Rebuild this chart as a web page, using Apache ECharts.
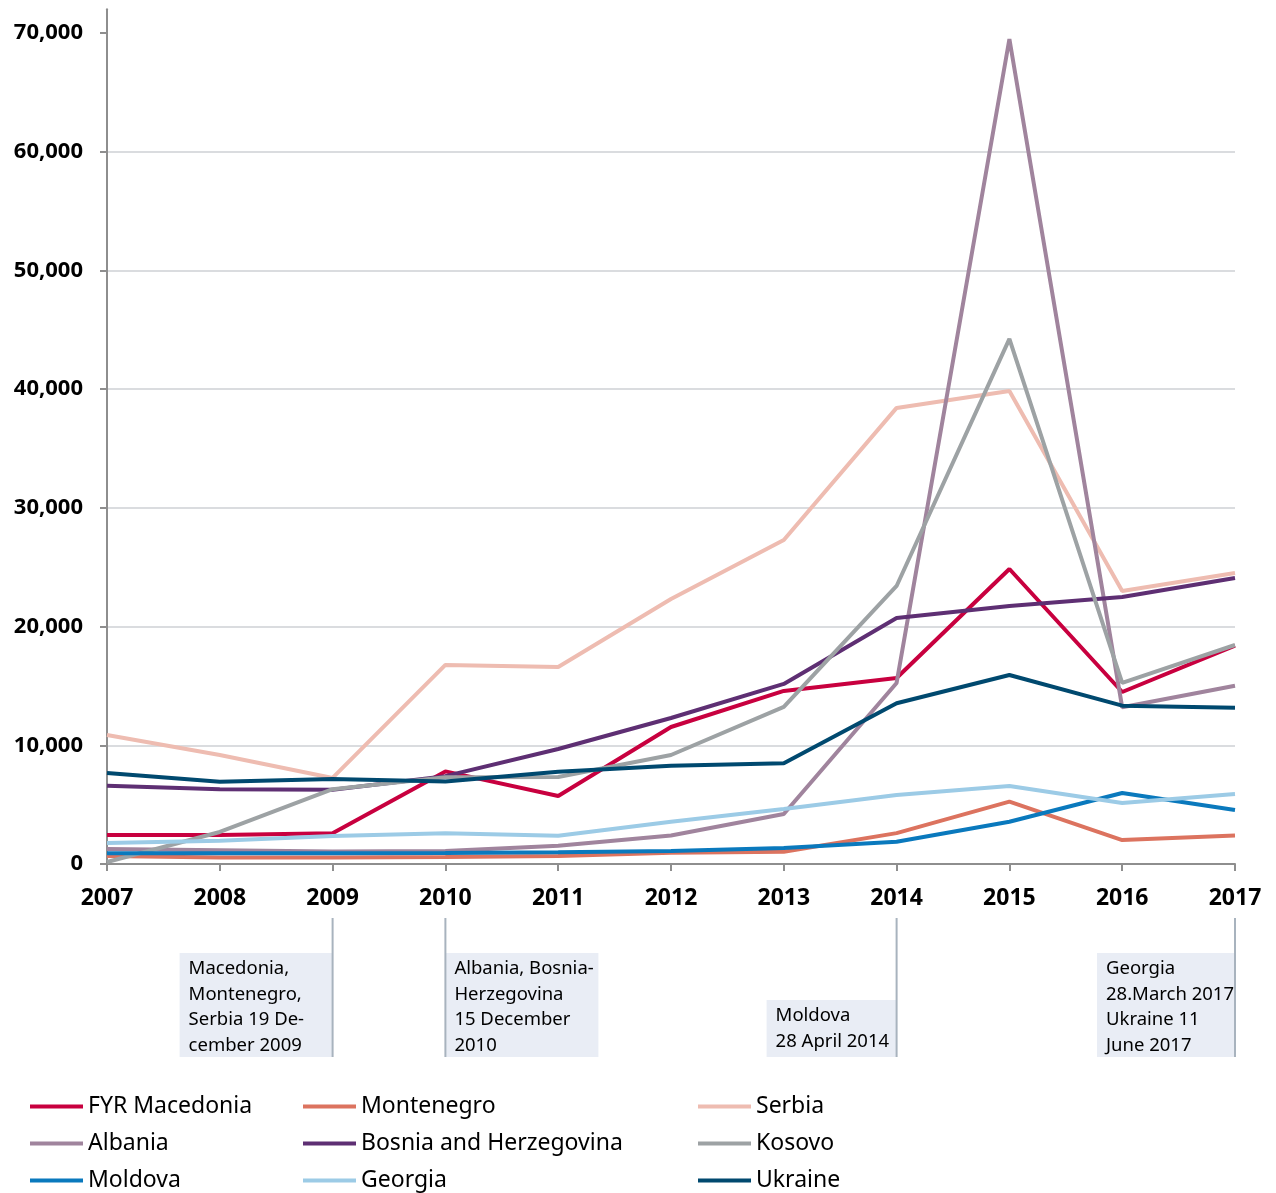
<!DOCTYPE html>
<html><head><meta charset="utf-8">
<script src="https://cdn.jsdelivr.net/npm/echarts@6/dist/echarts.min.js"></script>
<style>html,body{margin:0;padding:0;background:#fff}#c{width:1276px;height:1193px}</style>
</head><body><div id="c"></div>
<script>
const years = ['2007','2008','2009','2010','2011','2012','2013','2014','2015','2016','2017'];
const fyrMacedonia = [2440,2440,2600,7800,5730,11540,14580,15670,24850,14490,18400];
const montenegro   = [670,550,550,600,670,950,1040,2600,5250,2020,2400];
const serbia       = [10870,9180,7250,16770,16600,22330,27300,38420,39850,23000,24520];
const albania      = [1260,1150,1050,1100,1540,2400,4210,15250,69500,13200,15020];
const bosnia       = [6600,6300,6250,7400,9690,12300,15170,20730,21740,22500,24100];
const kosovo       = [170,2700,6300,7300,7330,9180,13230,23420,44230,15250,18450];
const moldova      = [900,900,900,930,1000,1100,1350,1880,3560,5980,4550];
const georgia      = [1770,1960,2360,2580,2380,3560,4630,5810,6570,5140,5900];
const ukraine      = [7660,6930,7160,6950,7780,8280,8480,13540,15920,13340,13170];
const yTicks = [0,10000,20000,30000,40000,50000,60000,70000];

const seriesNames = ['FYR Macedonia','Montenegro','Serbia','Albania','Bosnia and Herzegovina','Kosovo','Moldova','Georgia','Ukraine'];
const seriesData = [fyrMacedonia, montenegro, serbia, albania, bosnia, kosovo, moldova, georgia, ukraine];
const colors = ['#c8003f','#dc735f','#eebcb1','#a0849d','#5e2f73','#9da2a4','#0a79bd','#9ccbe6','#00496f'];

const noteYears = ['2009','2010','2014','2017'];
const noteTexts = [
  ['Macedonia,','Montenegro,','Serbia 19 De-','cember 2009'],
  ['Albania, Bosnia-','Herzegovina','15 December','2010'],
  ['Moldova','28 April 2014'],
  ['Georgia','28.March 2017','Ukraine 11','June 2017']
];
const noteSide = ['right','left','right','right'];
const noteWidth = [153,153,130,138];

const FONT = '"Noto Sans", "Open Sans", sans-serif';
const chart = echarts.init(document.getElementById('c'));

const option = {
  animation: false,
  backgroundColor: '#fff',
  color: colors,
  grid: {left: 107, right: 41, top: 9.3, bottom: 329, containLabel: false},
  xAxis: {
    type: 'category', data: years, boundaryGap: false,
    axisLine: {lineStyle: {color: '#8e8e8e', width: 2}},
    axisTick: {show: true, length: 7, lineStyle: {color: '#8e8e8e', width: 2}},
    axisLabel: {color: '#000', fontWeight: 'bold', fontSize: 23, fontFamily: FONT, margin: 23,
      showMinLabel: true, showMaxLabel: true, interval: 0},
    splitLine: {show: false}
  },
  yAxis: {
    type: 'value', min: 0, max: 72000, interval: 10000,
    axisLine: {show: true, lineStyle: {color: '#8e8e8e', width: 2}},
    axisTick: {show: true, length: 7, lineStyle: {color: '#8e8e8e', width: 2}, customValues: yTicks},
    axisLabel: {color: '#000', fontWeight: 'bold', fontSize: 22, fontFamily: FONT, margin: 24,
      customValues: yTicks,
      formatter: v => v.toLocaleString('en-US')},
    splitLine: {show: true, showMaxLine: false, lineStyle: {color: '#dadcdf', width: 2}}
  },
  legend: [0,1,2].map(col => ({
    orient: 'vertical',
    left: [30, 303, 698][col],
    top: 1095,
    padding: 0,
    itemWidth: 53, itemHeight: 4, itemGap: 14,
    icon: 'rect',
    data: [seriesNames[col], seriesNames[col+3], seriesNames[col+6]],
    textStyle: {fontSize: 23, fontFamily: FONT, color: '#000', lineHeight: 23}
  })),
  series: seriesNames.map((n, i) => ({
    name: n, type: 'line', data: seriesData[i], symbol: 'none',
    lineStyle: {width: 4, color: colors[i]}, itemStyle: {color: colors[i]}
  }))
};
chart.setOption(option);

function placeNotes() {
  const y0 = chart.convertToPixel({yAxisIndex: 0}, 0);
  const elements = [];
  noteYears.forEach((yr, i) => {
    const x = chart.convertToPixel({xAxisIndex: 0}, yr);
    const w = noteWidth[i];
    const lines = noteTexts[i];
    const h = 10 + lines.length * 23.5;
    const bottom = y0 + 193;
    const top = bottom - h;
    const left = noteSide[i] === 'right' ? x - w : x;
    elements.push({type: 'rect', shape: {x: left, y: top, width: w, height: h}, style: {fill: '#e9edf5'}, silent: true});
    elements.push({type: 'line', shape: {x1: x, y1: y0 + 54, x2: x, y2: bottom}, style: {stroke: '#a8b3be', lineWidth: 2}, silent: true});
    elements.push({type: 'text', x: left + 9, y: top + 3, style: {text: lines.join('\n'), font: '18.5px ' + FONT, fill: '#000', lineHeight: 25.5, verticalAlign: 'top'}, silent: true});
  });
  chart.setOption({graphic: {elements}});
}
placeNotes();
</script>
</body></html>
